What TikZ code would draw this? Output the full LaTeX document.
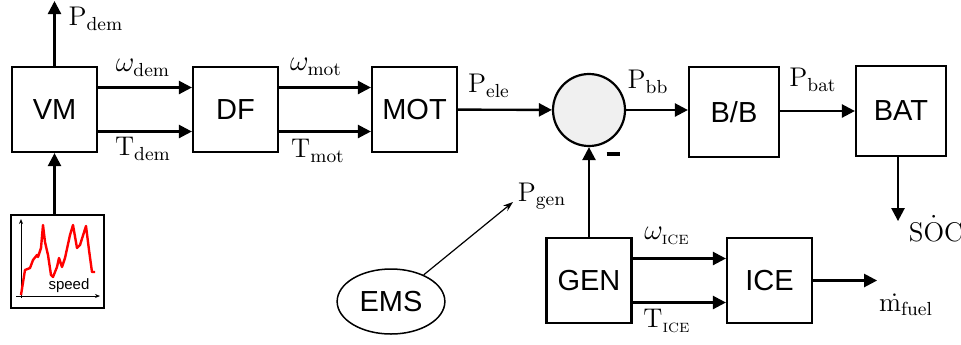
\documentclass[tikz,border=0pt]{standalone}
\usepackage{amsmath,amssymb}
\usepackage{fontspec}
\newfontfamily\arial{Liberation Sans}
\usepackage{tikz}
\usetikzlibrary{arrows.meta,shapes.geometric,positioning,calc}

\begin{document}
\begin{tikzpicture}[x=0.5pt, y=-0.5pt,
  blk/.style={draw, line width=1.1pt, minimum width=42.5pt, minimum height=42.5pt, font=\arial\fontsize{14.5}{17}\selectfont},
  arr/.style={line width=1.2pt, -{Triangle[length=6.5pt, width=6.5pt]}},
  lbl/.style={font=\fontsize{13.5}{16}\selectfont, inner sep=0pt}]
\useasboundingbox (0,0) rectangle (961,344);
% blocks
\node[blk] (vm) at (54.5,109.5) {VM};
\node[blk] (df) at (235.5,109.5) {DF};
\node[blk] (mot) at (414.5,109.5) {MOT};
\node[circle, draw, line width=1.1pt, fill=black!6, minimum size=36pt] (sum) at (589,110) {};
\node[blk, minimum width=45pt, minimum height=45pt] (bb) at (734,112) {B/B};
\node[blk, minimum width=45pt, minimum height=45pt] (bat) at (901,111) {BAT};
\node[blk] (gen) at (589,280.5) {GEN};
\node[blk] (ice) at (769.5,280.5) {ICE};
\node[ellipse, draw, line width=0.75pt, minimum width=49pt, minimum height=32.5pt, font=\arial\fontsize{14.5}{17}\selectfont] (ems) at (391,301.5) {EMS};
\node[draw, line width=1.1pt, minimum width=46.5pt, minimum height=46.5pt] (cyc) at (57.5,261.5) {};
% speed profile
\draw[line width=0.5pt, -{Stealth[length=2.5pt, width=2pt]}] (21,298) -- (21,219);
\draw[line width=0.5pt, -{Stealth[length=2.5pt, width=2pt]}] (16,296) -- (100,296);
\draw[red, line width=1.2pt, line join=round] (21,295) -- (25,270) -- (30,268) -- (33,260) -- (37,255) -- (38,257)
  -- (41,248) -- (43,225) -- (45,242) -- (48,255) -- (51,275) -- (53,277) -- (57,267) -- (59,258) -- (62,267)
  -- (65,258) -- (70,235) -- (73,225) -- (77,248) -- (80,245) -- (86,226) -- (89,250) -- (92,272) -- (95,272);
\node[font=\arial\fontsize{7.5}{9}\selectfont, inner sep=0pt] (spd) at (69,286) {speed};
% connectors
\coordinate (pd) at (vm.north |- 0,1);
\coordinate (socend) at ([xshift=-1.5pt, yshift=-32pt]bat.south);
\coordinate (fuelend) at ([xshift=32pt]ice.east);
\coordinate (gentip) at (513,202);
\draw[arr] (vm) -- (pd);
\draw[arr] (cyc.north -| vm.south) -- (vm.south);
\foreach \s in {11,-11} {
  \draw[arr] ([yshift=\s pt]vm.east) -- ([yshift=\s pt]df.west);
  \draw[arr] ([yshift=\s pt]df.east) -- ([yshift=\s pt]mot.west);
  \draw[arr] ([yshift=\s pt]gen.east) -- ([yshift=\s pt]ice.west);
}
\draw[arr] (mot) -- (sum);
\draw[arr] (sum) -- (bb.west |- sum);
\draw[arr] (bb.east |- bat) -- (bat);
\draw[arr] (gen) -- (sum);
\draw[arr] (socend |- bat.south) -- (socend);
\draw[arr] (ice) -- (fuelend);
\draw[line width=0.6pt, -{Stealth[length=5pt, width=3.5pt]}] (ems) -- (gentip);
% labels
\node[lbl] (lpdem) at (96,19) {$\mathrm{P}_{\mathrm{dem}}$};
\node[lbl] (lwdem) at (143,68) {$\omega_{\mathrm{dem}}$};
\node[lbl] (ltdem) at (143,149) {$\mathrm{T}_{\mathrm{dem}}$};
\node[lbl] (lwmot) at (316,67) {$\omega_{\mathrm{mot}}$};
\node[lbl] (ltmot) at (318,151) {$\mathrm{T}_{\mathrm{mot}}$};
\node[lbl] (lpele) at (489,86) {$\mathrm{P}_{\mathrm{ele}}$};
\node[lbl] (lpbb) at (648,82) {$\mathrm{P}_{\mathrm{bb}}$};
\node[lbl] (lpbat) at (813,80) {$\mathrm{P}_{\mathrm{bat}}$};
\node[lbl] (lpgen) at (542,196) {$\mathrm{P}_{\mathrm{gen}}$};
\node[lbl] (lsoc) at (936,229) {$\mathrm{S}\dot{\mathrm{O}}\mathrm{C}$};
\node[lbl] (lwice) at (667,236) {$\omega_{\scriptscriptstyle\mathrm{ICE}}$};
\node[lbl] (ltice) at (667,321) {$\mathrm{T}_{\scriptscriptstyle\mathrm{ICE}}$};
\node[lbl] (lfuel) at (906,305) {\.{m}$_{\mathrm{fuel}}$};
\node[inner sep=0pt] (minus) at (613,154) {\rule{6.5pt}{1.6pt}};
\end{tikzpicture}
\end{document}
